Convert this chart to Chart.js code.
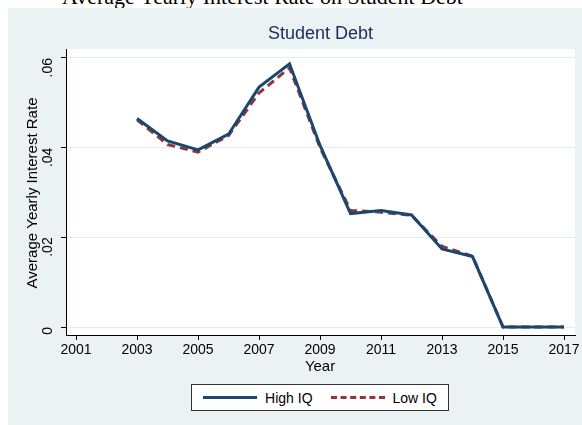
<!DOCTYPE html>
<html>
<head>
<meta charset="utf-8">
<script src="https://cdn.jsdelivr.net/npm/chart.js@4/dist/chart.umd.min.js"></script>
<style>
  body { margin: 0; width: 582px; height: 425px; overflow: hidden; background: #fff; position: relative; font-family: "Liberation Sans", Arial, sans-serif; }
  #panel { position: absolute; left: 8px; top: 8px; width: 574px; height: 417px; background: #eaf2f3; }
  #wrap { position: absolute; left: 0; top: 0; width: 582px; height: 425px; }
  #top { position: absolute; left: 62px; top: -16px; white-space: nowrap; font-family: "Liberation Serif", "DejaVu Serif", serif; font-size: 22px; color: #000; }
  #legend { position: absolute; left: 191px; top: 384px; width: 258px; height: 27px; background: #fff; border: 1px solid #333; box-sizing: border-box; display: flex; align-items: center; justify-content: center; gap: 18px; font-size: 14px; }
  .key { display: flex; align-items: center; gap: 8px; }
  .sw { width: 54px; height: 0; }
</style>
</head>
<body>
<div id="top">Average Yearly Interest Rate on Student Debt</div>
<div id="panel"></div>
<div id="wrap"><canvas id="c" width="582" height="425"></canvas></div>
<div id="legend">
  <div class="key"><div class="sw" style="border-top:3px solid #1a476f"></div>High IQ</div>
  <div class="key"><div class="sw" style="border-top:3px dashed #90353b"></div>Low IQ</div>
</div>
<script>
const years = [2003, 2004, 2005, 2006, 2007, 2008, 2009, 2010, 2011, 2012, 2013, 2014, 2015, 2016, 2017];
const highIQ = [0.0465, 0.0415, 0.0395, 0.0430, 0.0535, 0.0587, 0.0405, 0.0253, 0.0260, 0.0250, 0.0174, 0.0157, 0, 0, 0];
const lowIQ = [0.0462, 0.0407, 0.0390, 0.0427, 0.0522, 0.0578, 0.0400, 0.0260, 0.0256, 0.0249, 0.0180, 0.0158, 0, 0, 0];
const xTicks = [2001, 2003, 2005, 2007, 2009, 2011, 2013, 2015, 2017];
const yTicks = [0, 0.02, 0.04, 0.06];

const frame = {
  id: "frame",
  beforeDraw(chart) {
    const { ctx, chartArea: a } = chart;
    ctx.save();
    ctx.fillStyle = "#fff";
    ctx.fillRect(a.left, a.top, a.right - a.left, a.bottom - a.top);
    ctx.fillStyle = "#1e2a5e";
    ctx.font = "18px 'Liberation Sans', Arial";
    ctx.textAlign = "center";
    ctx.textBaseline = "middle";
    ctx.fillText("Student Debt", (a.left + a.right) / 2, 34);
    ctx.fillStyle = "#000";
    ctx.font = "15px 'Liberation Sans', Arial";
    ctx.fillText("Year", chart.scales.x.getPixelForValue(2009), 367);
    ctx.translate(33, 193);
    ctx.rotate(-Math.PI / 2);
    ctx.fillText("Average Yearly Interest Rate", 0, 0);
    ctx.restore();
  }
};

const toPts = (vals) => vals.map((v, i) => ({ x: years[i], y: v }));

new Chart(document.getElementById("c"), {
  type: "line",
  data: {
    datasets: [
      { label: "High IQ", data: toPts(highIQ), borderColor: "#1a476f", borderWidth: 3, pointRadius: 0, tension: 0 },
      { label: "Low IQ", data: toPts(lowIQ), borderColor: "#90353b", borderWidth: 3, borderDash: [8, 5], pointRadius: 0, tension: 0 }
    ]
  },
  options: {
    responsive: false,
    animation: false,
    layout: { padding: { top: 49, right: 7, bottom: 0, left: 8 } },
    plugins: { legend: { display: false }, tooltip: { enabled: false } },
    scales: {
      x: {
        type: "linear", min: 2000.67, max: 2017.36, offset: false,
        afterBuildTicks: (s) => { s.ticks = xTicks.map((v) => ({ value: v })); },
        afterFit: (s) => { s.height = 90; },
        grid: { display: true, drawOnChartArea: false, drawTicks: true, tickLength: 5, tickColor: "#000" },
        border: { display: true, color: "#000", width: 1 },
        ticks: { color: "#000", font: { size: 14 }, maxRotation: 0, autoSkip: false, callback: (v) => String(v), padding: 2 }
      },
      y: {
        min: -0.00178, max: 0.0620,
        afterBuildTicks: (s) => { s.ticks = yTicks.map((v) => ({ value: v })); },
        afterFit: (s) => { s.width = 58; },
        grid: { display: true, color: "#e3eef1", drawTicks: true, tickLength: 5, tickColor: "#000" },
        border: { display: true, color: "#000", width: 1 },
        ticks: { color: "#000", font: { size: 14 }, minRotation: 90, maxRotation: 90, padding: 13,
          callback: (v) => v === 0 ? "0" : String(v).replace(/^0/, "") }
      }
    }
  },
  plugins: [frame]
});
</script>
</body>
</html>
